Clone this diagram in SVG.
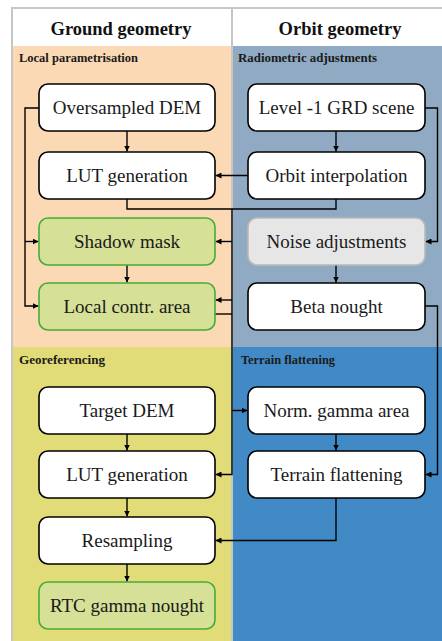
<svg xmlns="http://www.w3.org/2000/svg" width="442" height="641" viewBox="0 0 442 641">
<defs>
<style>
.hd{font-family:"Liberation Serif","Times New Roman",serif;font-weight:bold;font-size:18.5px;fill:#111;text-anchor:middle}
.sec{font-family:"Liberation Serif","Times New Roman",serif;font-weight:bold;font-size:11.5px;fill:#1a1a1a}
.lbl{font-family:"Liberation Serif","Times New Roman",serif;font-size:19px;fill:#1a1a1a;text-anchor:middle}
.wb{fill:#ffffff;stroke:#000;stroke-width:1.6}
.gb{fill:#d6e096;stroke:#44ad36;stroke-width:1.6}
.nb{fill:#e6e6e6;stroke:#b9b9b9;stroke-width:1.6}
.cn path{fill:none;stroke:#000;stroke-width:1.4}
.ar{marker-end:url(#ah)}
</style>
<marker id="ah" viewBox="0 0 6 6" refX="6" refY="3" markerWidth="6" markerHeight="6" markerUnits="userSpaceOnUse" orient="auto"><path d="M0,0 L6,3 L0,6 z" fill="#000"/></marker>
</defs>
<rect x="0" y="0" width="442" height="641" fill="#ffffff"/>
<g id="backgrounds">
<rect x="12" y="8" width="430" height="38" fill="#ffffff"/>
<rect x="12" y="46" width="220" height="301" fill="#fbd9b4"/>
<rect x="232" y="46" width="210" height="301" fill="#8faac2"/>
<rect x="12" y="347" width="220" height="294" fill="#e2dc78"/>
<rect x="232" y="347" width="210" height="294" fill="#428ac6"/>
<path d="M12,8 V641 M11,8 H442 M232,8 V641" stroke="#c6c6c6" stroke-width="2" fill="none"/>
</g>
<g id="headers">
<text class="hd" x="121" y="34.5">Ground geometry</text>
<text class="hd" x="340" y="34.5">Orbit geometry</text>
<text class="sec" x="19" y="61.5" textLength="119" lengthAdjust="spacingAndGlyphs">Local parametrisation</text>
<text class="sec" x="238" y="61.5" textLength="139" lengthAdjust="spacingAndGlyphs">Radiometric adjustments</text>
<text class="sec" x="19" y="364" textLength="86" lengthAdjust="spacingAndGlyphs">Georeferencing</text>
<text class="sec" x="241" y="364" textLength="94" lengthAdjust="spacingAndGlyphs">Terrain flattening</text>
</g>
<g id="connectors" class="cn">
<path class="ar" d="M127,131 V151.5"/>
<path class="ar" d="M336,131 V151.5"/>
<path class="ar" d="M248,175.5 H215.5"/>
<path d="M127,199 V209 H336 V199"/>
<path class="ar" d="M232,209 V474.5 H215.5"/>
<path class="ar" d="M232,241.5 H215.5"/>
<path class="ar" d="M232,300 H215.5"/>
<path d="M215,314 H232"/>
<path class="ar" d="M232,410.5 H247.5"/>
<path class="ar" d="M127,265 V282.5"/>
<path class="ar" d="M39,108 H25 V306 H38.5"/>
<path class="ar" d="M25,241.5 H38.5"/>
<path class="ar" d="M425,108 H437.5 V241.5 H425.5"/>
<path class="ar" d="M336,265 V282.5"/>
<path class="ar" d="M425,306 H437.5 V474.5 H425.5"/>
<path class="ar" d="M336,434 V450.5"/>
<path class="ar" d="M127,434 V450.5"/>
<path class="ar" d="M127,498 V516.5"/>
<path class="ar" d="M336,498 V540.5 H215.5"/>
<path class="ar" d="M127,564 V581.5"/>
</g>
<g id="n-oversampled-dem"><rect class="wb" x="39" y="84" width="176" height="47" rx="9"/><text class="lbl" x="127" y="113.5">Oversampled DEM</text></g>
<g id="n-lut-generation-1"><rect class="wb" x="39" y="152" width="176" height="47" rx="9"/><text class="lbl" x="127" y="181.5">LUT generation</text></g>
<g id="n-shadow-mask"><rect class="gb" x="39" y="218" width="176" height="47" rx="9"/><text class="lbl" x="127" y="247.5">Shadow mask</text></g>
<g id="n-local-contr-area"><rect class="gb" x="39" y="283" width="176" height="47" rx="9"/><text class="lbl" x="127" y="312.5">Local contr. area</text></g>
<g id="n-level1-grd"><rect class="wb" x="248" y="84" width="177" height="47" rx="9"/><text class="lbl" x="336.5" y="113.5">Level -1 GRD scene</text></g>
<g id="n-orbit-interp"><rect class="wb" x="248" y="152" width="177" height="47" rx="9"/><text class="lbl" x="336.5" y="181.5">Orbit interpolation</text></g>
<g id="n-noise-adj"><rect class="nb" x="248" y="218" width="177" height="47" rx="9"/><text class="lbl" x="336.5" y="247.5">Noise adjustments</text></g>
<g id="n-beta-nought"><rect class="wb" x="248" y="283" width="177" height="47" rx="9"/><text class="lbl" x="336.5" y="312.5">Beta nought</text></g>
<g id="n-target-dem"><rect class="wb" x="39" y="387" width="176" height="47" rx="9"/><text class="lbl" x="127" y="416.5">Target DEM</text></g>
<g id="n-lut-generation-2"><rect class="wb" x="39" y="451" width="176" height="47" rx="9"/><text class="lbl" x="127" y="480.5">LUT generation</text></g>
<g id="n-resampling"><rect class="wb" x="39" y="517" width="176" height="47" rx="9"/><text class="lbl" x="127" y="546.5">Resampling</text></g>
<g id="n-rtc-gamma"><rect class="gb" x="39" y="582" width="176" height="47" rx="9"/><text class="lbl" x="127" y="611.5">RTC gamma nought</text></g>
<g id="n-norm-gamma"><rect class="wb" x="248" y="387" width="177" height="47" rx="9"/><text class="lbl" x="336.5" y="416.5">Norm. gamma area</text></g>
<g id="n-terrain-flat"><rect class="wb" x="248" y="451" width="177" height="47" rx="9"/><text class="lbl" x="336.5" y="480.5">Terrain flattening</text></g>
</svg>
